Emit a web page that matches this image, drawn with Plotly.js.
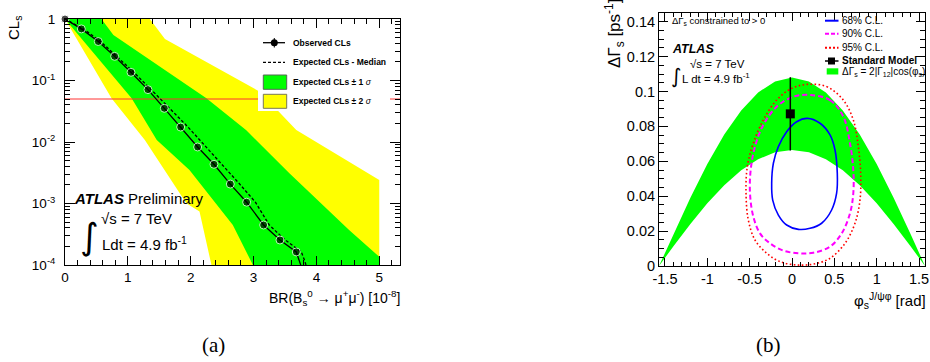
<!DOCTYPE html>
<html><head><meta charset="utf-8">
<script src="https://cdn.plot.ly/plotly-3.0.1.min.js"></script>
<style>html,body{margin:0;padding:0;background:#fff;} #chart{width:930px;height:362px;}</style>
</head><body><div id="chart"></div>
<script>
// ---------- Panel (a): CLs vs BR ----------
const brObs  = [0, 0.26, 0.53, 0.79, 1.05, 1.32, 1.58, 1.84, 2.11, 2.37, 2.63, 2.89, 3.16, 3.42, 3.68, 3.85];
const clsObs = [1, 0.69, 0.43, 0.247, 0.136, 0.071, 0.0353, 0.0175, 0.0083, 0.00434, 0.00207, 0.00105, 0.000447, 0.000255, 0.000163, 0.00005];
const brMed  = [0, 0.30, 0.567, 0.83, 1.095, 1.376, 1.667, 1.957, 2.24, 2.50, 2.77, 3.03, 3.25, 3.49, 3.76, 3.81, 3.9];
const clsMed = [1, 0.68, 0.43, 0.244, 0.136, 0.0703, 0.0353, 0.0175, 0.0084, 0.0043, 0.00212, 0.00105, 0.000447, 0.000262, 0.000163, 0.00012, 0.00006];
// band edges, listed from CLs = 1 downward
const yelLoX = [0, 0.74, 1.27, 1.59, 1.93, 2.14, 2.33];
const yelLoY = [1, 0.0513, 0.0108, 0.0035, 0.00101, 0.00074, 0.0001];
const yelHiX = [1.35, 1.59, 3.10, 3.68, 5.0, 5.0];
const yelHiY = [1, 0.473, 0.0658, 0.01567, 0.00241, 0.0001];
const grnLoX = [0, 1.06, 1.46, 1.98, 2.67, 2.99];
const grnLoY = [1, 0.0513, 0.0108, 0.0035, 0.000447, 0.0001];
const grnHiX = [0.58, 0.77, 2.25, 2.88, 3.57, 4.52, 5.0, 5.0];
const grnHiY = [1, 0.55, 0.0513, 0.01567, 0.0031, 0.00037, 0.000136, 0.0001];
const clsLimitX = [0, 5.33];
const clsLimitY = [0.05, 0.05];
const clsTickVals = [0.0001, 0.001, 0.01, 0.1, 1];
const clsTickText = ['10<sup>-4</sup>', '10<sup>-3</sup>', '10<sup>-2</sup>', '10<sup>-1</sup>', '1'];

// ---------- Panel (b): DeltaGamma_s vs phi_s ----------
const phiBand = [-1.5708, -1.4, -1.2, -1.0, -0.8, -0.6, -0.4, -0.2, 0, 0.2, 0.4, 0.6, 0.8, 1.0, 1.2, 1.4, 1.5708];
const dgBandHi = [0, 0.0184, 0.0391, 0.0584, 0.0753, 0.0891, 0.0995, 0.1058, 0.108, 0.1058, 0.0995, 0.0891, 0.0753, 0.0584, 0.0391, 0.0184, 0];
const dgBandLo = [0, 0.0113, 0.0241, 0.0359, 0.0463, 0.0549, 0.0612, 0.0652, 0.0665, 0.0652, 0.0612, 0.0549, 0.0463, 0.0359, 0.0241, 0.0113, 0];
const c68Phi = [0.181, 0.331, 0.449, 0.508, 0.535, 0.527, 0.468, 0.350, 0.213, 0.075, -0.063, -0.161, -0.228, -0.240, -0.220, -0.161, -0.063, 0.055, 0.181];
const c68Dg  = [0.0846, 0.0818, 0.0751, 0.0665, 0.0531, 0.0417, 0.0321, 0.0245, 0.0216, 0.0210, 0.0235, 0.0292, 0.0378, 0.0474, 0.0589, 0.0684, 0.0770, 0.0827, 0.0846];
const c90Phi = [0.213, 0.449, 0.606, 0.685, 0.724, 0.724, 0.685, 0.587, 0.449, 0.252, 0.075, -0.102, -0.260, -0.378, -0.457, -0.496, -0.488, -0.437, -0.339, -0.181, 0.015, 0.213];
const c90Dg  = [0.0980, 0.0951, 0.0856, 0.0703, 0.0550, 0.0417, 0.0302, 0.0187, 0.0111, 0.0076, 0.0073, 0.0088, 0.0130, 0.0187, 0.0283, 0.0417, 0.0550, 0.0684, 0.0808, 0.0913, 0.0970, 0.0980];
const c95Phi = [0.181, 0.409, 0.606, 0.724, 0.783, 0.811, 0.803, 0.744, 0.626, 0.449, 0.252, 0.055, -0.142, -0.299, -0.437, -0.516, -0.543, -0.528, -0.457, -0.339, -0.181, -0.004, 0.181];
const c95Dg  = [0.1041, 0.1028, 0.0951, 0.0837, 0.0684, 0.0531, 0.0378, 0.0245, 0.0130, 0.0044, 0.0011, 0.0006, 0.0025, 0.0073, 0.0149, 0.0264, 0.0417, 0.0569, 0.0703, 0.0837, 0.0951, 0.1018, 0.1041];
const smPhi = [-0.02];
const smDg = [0.0872];
const smErr = [0.021];
const phiTickVals = [-1.5, -1, -0.5, 0, 0.5, 1, 1.5];
const phiTickText = ['-1.5', '-1', '-0.5', '0', '0.5', '1', '1.5'];

// ---------- helpers ----------
const W = 930, H = 362;
const px = x => x / W;
const py = y => 1 - y / H;
const rev = a => a.slice().reverse();
const FONT = 'Liberation Sans, Arial, sans-serif';

const obsSizes = brObs.map((_, i) => (i < brObs.length - 1 ? 8 : 0));

const traces = [
  {x: yelLoX.concat(rev(yelHiX)), y: yelLoY.concat(rev(yelHiY)), xaxis: 'x', yaxis: 'y',
   type: 'scatter', mode: 'lines', fill: 'toself', fillcolor: '#ffff00', line: {width: 0}, hoverinfo: 'skip'},
  {x: grnLoX.concat(rev(grnHiX)), y: grnLoY.concat(rev(grnHiY)), xaxis: 'x', yaxis: 'y',
   type: 'scatter', mode: 'lines', fill: 'toself', fillcolor: '#00ff00', line: {width: 0}, hoverinfo: 'skip'},
  {x: clsLimitX, y: clsLimitY, xaxis: 'x', yaxis: 'y', type: 'scatter', mode: 'lines',
   line: {color: '#ff3333', width: 1}},
  {x: brMed, y: clsMed, xaxis: 'x', yaxis: 'y', type: 'scatter', mode: 'lines',
   line: {color: '#000', width: 1.3, dash: '3px,2px'}},
  {x: brObs, y: clsObs, xaxis: 'x', yaxis: 'y', type: 'scatter', mode: 'lines+markers', cliponaxis: false,
   line: {color: '#000', width: 1.3}, marker: {color: '#000', size: obsSizes, symbol: 'circle'}},

  {x: phiBand.concat(rev(phiBand)), y: dgBandHi.concat(rev(dgBandLo)), xaxis: 'x2', yaxis: 'y2',
   type: 'scatter', mode: 'lines', fill: 'toself', fillcolor: '#00ff00', line: {width: 0}, hoverinfo: 'skip'},
  {x: c95Phi, y: c95Dg, xaxis: 'x2', yaxis: 'y2', type: 'scatter', mode: 'lines',
   line: {color: '#ff0000', width: 1.6, dash: '1.6px,2.4px', shape: 'spline'}},
  {x: c90Phi, y: c90Dg, xaxis: 'x2', yaxis: 'y2', type: 'scatter', mode: 'lines',
   line: {color: '#ff00ff', width: 2, dash: '5px,3px', shape: 'spline'}},
  {x: c68Phi, y: c68Dg, xaxis: 'x2', yaxis: 'y2', type: 'scatter', mode: 'lines',
   line: {color: '#0000ff', width: 1.6, shape: 'spline'}},
  {x: smPhi, y: smDg, xaxis: 'x2', yaxis: 'y2', type: 'scatter', mode: 'markers',
   marker: {color: '#000', size: 9, symbol: 'square'},
   error_y: {type: 'data', array: smErr, visible: true, color: '#000', thickness: 1.5, width: 0}}
];

const axBase = {
  showline: true, linecolor: '#000', linewidth: 1, mirror: 'allticks', ticks: 'inside',
  tickcolor: '#000', tickwidth: 1, showgrid: false, zeroline: false, automargin: false,
  fixedrange: true, tickfont: {family: FONT, size: 13.5, color: '#000'}
};

const shapes = [];
const annotations = [];
function ann(x, y, text, size, opts) {
  annotations.push(Object.assign({xref: 'paper', yref: 'paper', x: px(x), y: py(y), text: text,
    showarrow: false, xanchor: 'left', yanchor: 'middle', borderpad: 0,
    font: {family: FONT, size: size, color: '#000'}}, opts || {}));
}
function rect(x0, y0, x1, y1, fill, line) {
  shapes.push({type: 'rect', xref: 'paper', yref: 'paper', layer: 'above',
    x0: px(x0), x1: px(x1), y0: py(y0), y1: py(y1), fillcolor: fill,
    line: line ? {color: line, width: 1} : {width: 0}});
}
function seg(x0, y0, x1, y1, color, width, dash) {
  shapes.push({type: 'line', xref: 'paper', yref: 'paper', layer: 'above',
    x0: px(x0), x1: px(x1), y0: py(y0), y1: py(y1), line: {color: color, width: width, dash: dash || 'solid'}});
}

// legend (a)
rect(258, 33, 390, 111, '#ffffff', null);
seg(263, 42.7, 285, 42.7, '#000', 1.3);
shapes.push({type: 'circle', xref: 'paper', yref: 'paper', layer: 'above', x0: px(270.8), x1: px(277.8),
  y0: py(39.2), y1: py(46.2), fillcolor: '#000', line: {color: '#000', width: 0}});
seg(274.3, 38, 274.3, 47.5, '#000', 1);
seg(263, 62.3, 285, 62.3, '#000', 1.3, '3px,2px');
rect(263.3, 75, 286.7, 89.3, '#00ff00', '#556655');
rect(263.3, 94.3, 286.7, 108.3, '#ffff00', '#777755');
ann(291.7, 42.7, '<b>Observed CLs</b>', 8.5);
ann(291.7, 62.3, '<b>Expected CLs - Median</b>', 8.5);
ann(291.7, 81.7, '<b>Expected CLs ± 1 </b><i>σ</i>', 8.5);
ann(291.7, 101, '<b>Expected CLs ± 2 </b><i>σ</i>', 8.5);

// legend (b)
seg(825, 20.7, 838.5, 20.7, '#0000ff', 2);
seg(825, 33.8, 838.5, 33.8, '#ff00ff', 2, '4px,2px');
seg(825, 47.7, 838.5, 47.7, '#ff0000', 2, '2px,2px');
seg(825, 61, 838.5, 61, '#000', 1.5);
rect(828, 57.5, 835, 64.5, '#000', null);
rect(826.7, 68.3, 838.3, 74.5, '#00ff00', null);
ann(840.7, 20.7, '68% C.L.', 10);
ann(840.7, 34, '90% C.L.', 10);
ann(840.7, 47.7, '95% C.L.', 10);
ann(840.7, 61, '<b>Standard Model</b>', 10);
ann(840.7, 72, 'ΔΓ<sub>s</sub> = 2|Γ<sub>12</sub>|cos(φ<sub>s</sub>)', 10);

// panel (a) texts
ann(14, 28, 'CL<sub>s</sub>', 15, {textangle: -90, xanchor: 'center', yanchor: 'middle'});
ann(401, 298, 'BR(B<sub>s</sub><sup>0</sup> → μ<sup>+</sup>μ<sup>-</sup>) [10<sup>-8</sup>]', 14, {xanchor: 'right'});
ann(73, 198.5, '<b><i>ATLAS</i></b> Preliminary', 15);
ann(100, 218, '√s = 7 TeV', 15);
ann(101, 243, 'Ldt = 4.9 fb<sup>-1</sup>', 15);
ann(89, 236, '∫', 36, {xanchor: 'center', font: {family: 'DejaVu Sans', size: 36, color: '#000'}});

// panel (b) texts
ann(615, 34, 'ΔΓ<sub>s</sub> [ps<sup>-1</sup>]', 17, {textangle: -90, xanchor: 'center'});
ann(927, 300, 'φ<sub>s</sub><sup>J/ψφ</sup> [rad]', 15, {xanchor: 'right'});
ann(671, 21.3, 'ΔΓ<sub>s</sub> constrained to > 0', 9.5);
ann(671, 48.7, '<b><i>ATLAS</i></b>', 12.5);
ann(689, 64.5, '√s = 7 TeV', 11.5);
ann(681, 78, 'L dt = 4.9 fb<sup>-1</sup>', 11.5);
ann(676, 76, '∫', 20, {xanchor: 'center', font: {family: 'DejaVu Sans', size: 20, color: '#000'}});

// captions
ann(213, 345, '(a)', 21, {xanchor: 'center', font: {family: 'Liberation Serif, serif', size: 21, color: '#000'}});
ann(768, 345, '(b)', 21, {xanchor: 'center', font: {family: 'Liberation Serif, serif', size: 21, color: '#000'}});

const layout = {
  width: W, height: H, margin: {l: 0, r: 0, t: 0, b: 0}, showlegend: false,
  paper_bgcolor: '#fff', plot_bgcolor: '#fff', font: {family: FONT, color: '#000'},
  xaxis: Object.assign({}, axBase, {domain: [px(65), px(400)], range: [0, 5.33], anchor: 'y',
    tick0: 0, dtick: 1, ticklen: 9, minor: {dtick: 0.2, ticklen: 5, ticks: 'inside', tickcolor: '#000'}}),
  yaxis: Object.assign({}, axBase, {domain: [py(265), py(19)], type: 'log', range: [-4, 0], anchor: 'x',
    tickmode: 'array', tickvals: clsTickVals, ticktext: clsTickText, ticklen: 10, ticklabelstandoff: 6,
    minor: {dtick: 'D1', ticklen: 5, ticks: 'inside', tickcolor: '#000'}}),
  xaxis2: Object.assign({}, axBase, {domain: [px(659), px(925)], range: [-1.5708, 1.5708], anchor: 'y2',
    tickmode: 'array', tickvals: phiTickVals, ticktext: phiTickText, ticklen: 8,
    tickfont: {family: FONT, size: 14.5, color: '#000'},
    minor: {tick0: 0, dtick: 0.1, ticklen: 4, ticks: 'inside', tickcolor: '#000'}}),
  yaxis2: Object.assign({}, axBase, {domain: [py(266), py(13)], range: [0, 0.145], anchor: 'x2',
    tick0: 0, dtick: 0.02, ticklen: 9, tickfont: {family: FONT, size: 14.5, color: '#000'},
    minor: {tick0: 0, dtick: 0.005, ticklen: 5, ticks: 'inside', tickcolor: '#000'}}),
  shapes: shapes,
  annotations: annotations
};

Plotly.newPlot('chart', traces, layout, {displayModeBar: false, staticPlot: true});
</script>
</body></html>
